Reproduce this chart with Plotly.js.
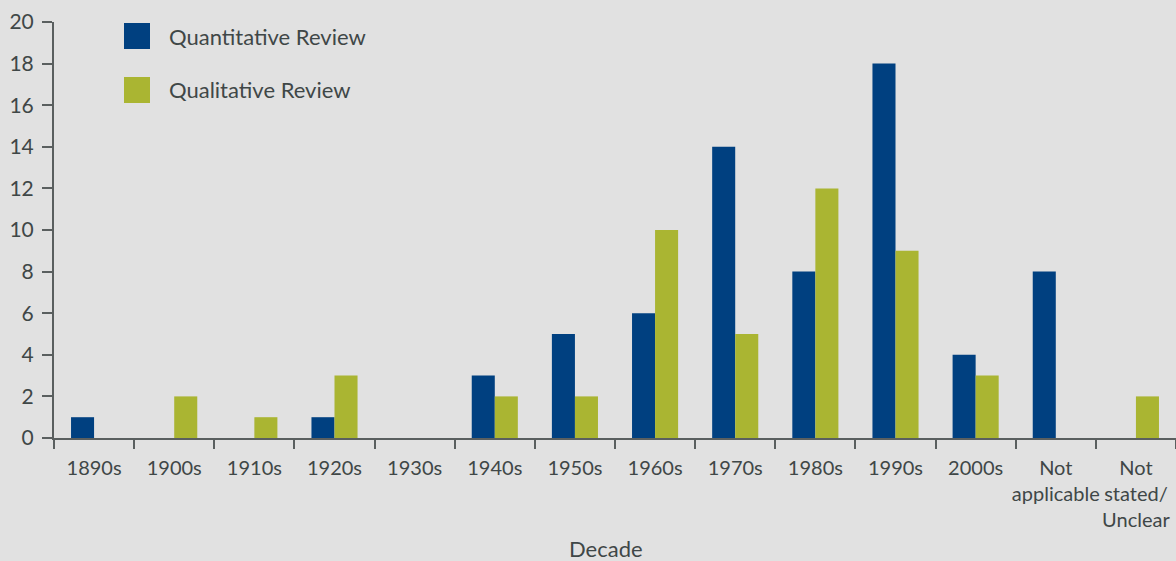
<!DOCTYPE html>
<html>
<head>
<meta charset="utf-8">
<script src="https://cdn.plot.ly/plotly-3.0.1.min.js"></script>
<style>html,body{margin:0;padding:0;background:#e1e1e1;}#chart{width:1176px;height:561px;}</style>
</head>
<body>
<div id="chart"></div>
<script>
const categories = ["1890s","1900s","1910s","1920s","1930s","1940s","1950s","1960s","1970s","1980s","1990s","2000s","Not<br>applicable","Not<br>stated/<br>Unclear"];
const quantitative = [1,0,0,1,0,3,5,6,14,8,18,4,8,0];
const qualitative = [0,2,1,3,0,2,2,10,5,12,9,3,0,2];
const seriesNames = ["Quantitative Review","Qualitative Review"];
const colors = ["#004080","#aab532"];
const textColor = "#3f4747";
const font = "Lato, 'Noto Sans', sans-serif";

const traces = [
  {type:"bar", x:categories, y:quantitative, name:seriesNames[0], marker:{color:colors[0]}, hoverinfo:"x+y"},
  {type:"bar", x:categories, y:qualitative, name:seriesNames[1], marker:{color:colors[1]}, hoverinfo:"x+y"}
];

const legendShapes = [];
const legendAnn = [];
seriesNames.forEach((n,i)=>{
  const yc = 36 + i*54; // px from top
  legendShapes.push({type:"rect", xref:"paper", yref:"paper",
    x0:(124-54)/1122, x1:(150-54)/1122,
    y0:(438-(yc+13))/416, y1:(438-(yc-13))/416,
    fillcolor:colors[i], line:{width:0}});
  legendAnn.push({xref:"paper", yref:"paper", x:(167-54)/1122, y:(438-yc)/416,
    xanchor:"left", yanchor:"middle", text:n, showarrow:false,
    font:{family:font, size:22, color:textColor}});
});

legendAnn.push({xref:"paper", yref:"paper", x:(606-54)/1122, y:(438-548)/416,
  xanchor:"center", yanchor:"middle", text:"Decade", showarrow:false,
  font:{family:font, size:22, color:textColor}});

const layout = {
  width:1176, height:561,
  paper_bgcolor:"#e1e1e1", plot_bgcolor:"#e1e1e1",
  margin:{l:54, r:0, t:22, b:123},
  showlegend:false,
  barmode:"group", bargap:0.425, bargroupgap:0,
  font:{family:font, size:20, color:textColor},
  xaxis:{type:"category", range:[-0.5,13.5], showline:true, linecolor:"#5a5f5f", linewidth:2,
    ticks:"outside", tickson:"boundaries", ticklen:9, tickwidth:2, tickcolor:"#5a5f5f", tickangle:0,
    ticklabelstandoff:11,
    tickfont:{family:font, size:20, color:textColor}, showgrid:false, zeroline:false, fixedrange:true},
  yaxis:{range:[0,20], dtick:2, tick0:0, showline:true, linecolor:"#5a5f5f", linewidth:2,
    ticks:"outside", ticklen:10, tickwidth:2, tickcolor:"#5a5f5f", ticklabelstandoff:4,
    tickfont:{family:font, size:21, color:textColor}, showgrid:false, zeroline:false, fixedrange:true},
  shapes:legendShapes,
  annotations:legendAnn
};

Plotly.newPlot("chart", traces, layout, {displayModeBar:false});
</script>
</body>
</html>
